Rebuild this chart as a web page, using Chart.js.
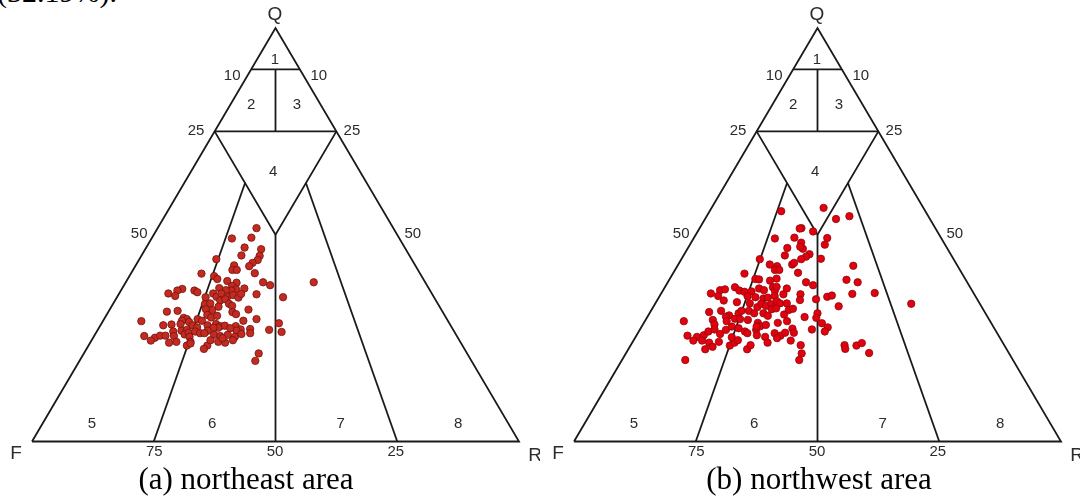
<!DOCTYPE html>
<html>
<head>
<meta charset="utf-8">
<script src="https://cdn.jsdelivr.net/npm/chart.js@4.4.0/dist/chart.umd.min.js"></script>
<style>
  body { margin: 0; background: #fff; width: 1080px; height: 497px; overflow: hidden; position: relative; }
  .panel { position: absolute; top: 0; }
  .txt { position: absolute; font-family: "Liberation Serif", "Times New Roman", serif; color: #000; white-space: nowrap; line-height: 1; }
</style>
</head>
<body>
<div class="txt" style="left:-3px; top:-23px; font-size:30px;">(32.19%).</div>
<canvas id="ne" class="panel" style="left:0px" width="540" height="497"></canvas>
<canvas id="nw" class="panel" style="left:540px" width="540" height="497"></canvas>
<div class="txt" style="left:-4px; width:500px; text-align:center; top:463px; font-size:31px;">(a) northeast area</div>
<div class="txt" style="left:569px; width:500px; text-align:center; top:463px; font-size:31px;">(b) northwest area</div>
<script>
// Q and R percentages of each sample (F = 100 - Q - R)
const qNE = [51.6,49.1,49.3,46.9,46.5,45.0,44.1,44.9,43.9,43.2,
  42.4,42.6,41.5,41.5,40.7,40.6,40.0,39.3,38.8,38.4,
  37.6,38.5,37.8,38.5,37.0,36.8,36.5,36.6,37.1,36.9,
  36.5,35.8,35.2,36.5,36.1,35.8,35.0,35.8,35.0,35.4,
  34.8,35.7,35.6,34.9,34.9,34.1,34.4,33.3,32.8,33.2,
  33.4,32.6,31.8,32.0,31.4,31.6,31.9,31.3,30.8,30.6,
  30.0,30.4,29.9,29.6,29.2,29.1,29.6,29.2,29.2,29.6,
  28.6,28.1,28.3,28.4,28.9,28.1,27.6,28.1,28.4,27.9,
  28.0,27.5,27.5,26.8,27.9,27.1,27.2,26.2,26.8,27.4,
  26.6,26.8,27.0,25.9,26.3,25.3,24.1,26.6,26.2,26.2,
  25.8,25.5,25.8,25.3,26.0,25.5,25.1,25.6,25.6,24.4,
  23.9,25.5,24.1,23.2,23.7,23.2,22.4,24.1,23.9,24.5,
  27.0,26.5,21.3,19.5,24.5,25.0];
const rNE = [20.3,16.5,20.4,20.2,23.8,20.5,15.8,24.3,24.4,23.7,
  23.4,20.2,20.4,21.3,25.4,14.5,17.4,18.4,20.7,22.8,
  22.3,28.2,30.0,38.6,25.1,23.5,22.7,21.5,19.9,12.4,
  11.6,10.1,11.8,15.1,15.9,19.3,20.4,21.0,22.6,23.6,
  25.0,25.1,28.3,34.1,18.2,21.6,22.5,23.8,24.7,18.9,
  19.9,22.0,21.1,19.7,12.0,14.1,28.5,25.5,26.5,20.7,
  21.8,22.8,16.2,17.0,16.2,7.9,19.2,20.3,28.8,31.3,
  36.4,12.9,14.5,16.3,17.8,18.9,20.1,22.0,23.6,24.7,
  25.6,24.5,23.5,22.7,27.9,29.3,31.2,31.7,28.6,27.0,
  15.7,17.3,18.3,18.4,19.0,19.7,20.5,20.2,21.4,22.3,
  24.5,25.9,27.3,29.0,30.0,10.3,12.7,13.5,14.6,12.2,
  16.2,16.4,17.6,20.2,20.7,24.4,24.1,26.2,27.7,29.0,
  35.2,38.0,35.9,36.1,24.4,26.6];

const qNW = [55.7,56.5,53.8,54.5,51.6,51.5,50.8,49.1,49.3,49.2,
  48.1,47.6,46.8,46.6,47.1,45.3,44.7,44.1,45.0,44.1,
  44.2,42.8,42.4,42.8,43.2,41.5,41.5,40.8,42.5,40.6,
  39.3,39.2,38.9,39.4,38.5,37.8,39.1,38.5,35.8,36.6,
  36.8,37.3,36.5,36.2,36.3,37.0,36.6,37.3,36.5,37.4,
  37.0,35.2,34.1,33.7,35.1,34.9,34.6,34.8,35.2,35.6,
  35.6,34.2,34.4,35.0,35.3,35.7,35.9,33.3,33.4,32.5,
  33.3,32.8,33.2,33.9,33.4,33.4,32.0,32.2,31.8,32.1,
  32.7,31.3,31.6,30.5,31.0,31.6,31.6,31.0,31.0,30.4,
  30.7,30.1,31.0,29.9,29.1,29.4,28.3,30.2,29.1,29.7,
  29.6,29.4,28.7,27.9,28.2,28.7,29.1,28.6,27.6,26.6,
  27.1,25.6,25.3,25.7,26.6,27.1,26.0,27.0,27.8,27.4,
  26.6,26.2,27.0,25.7,25.3,26.2,25.6,26.3,27.3,26.3,
  24.4,24.4,23.9,22.9,22.3,24.1,23.2,23.9,22.3,23.3,
  23.9,25.0,24.4,23.3,21.3,19.7,19.7,23.3,22.4,23.2,
  23.8,21.4,25.2,24.5,27.8];
const rNW = [14.7,23.0,26.9,29.3,20.9,20.6,23.7,16.7,20.6,27.4,
  22.6,27.7,20.4,23.7,22.9,25.7,25.3,24.6,20.8,16.1,
  28.6,18.8,20.5,23.4,23.6,20.5,21.4,25.6,36.1,14.7,
  17.6,18.4,20.8,21.9,28.4,30.2,36.4,39.0,10.2,11.7,
  12.6,14.4,15.7,16.9,18.3,19.5,20.7,22.2,23.0,22.9,
  25.2,12.0,13.7,16.6,18.1,19.8,21.6,22.4,23.6,25.2,
  28.7,29.3,32.5,34.5,35.3,39.3,43.8,52.6,19.4,21.4,
  21.8,23.0,23.9,24.7,25.6,27.0,24.6,25.4,28.2,28.9,
  38.0,12.1,14.4,16.6,18.3,18.6,20.1,21.5,23.4,24.6,
  27.8,32.3,34.5,34.8,8.0,13.8,14.7,16.1,16.8,18.2,
  19.3,21.0,23.4,24.3,25.3,27.5,29.2,36.6,38.3,38.2,
  35.3,10.5,12.6,13.8,14.3,15.3,17.0,17.7,18.5,20.1,
  21.8,22.5,23.9,24.7,26.6,28.1,29.6,30.2,31.2,32.0,
  12.3,14.1,15.8,17.0,15.8,17.7,20.4,21.0,24.4,24.6,
  27.8,29.2,32.3,34.9,36.1,36.4,13.0,43.9,44.5,46.4,
  47.2,49.9,19.8,21.4,23.6];

// field boundaries as [Q, R] corners
const fields = [
  [[0,0],[0,100],[100,0],[0,0]],
  [[90,0],[90,10]],
  [[75,0],[75,25]],
  [[90,5],[75,12.5]],
  [[75,0],[50,25],[75,25]],
  [[50,25],[0,50]],
  [[0,25],[62.5,12.5]],
  [[0,75],[62.5,25]]
];

// labels: text, x, Q, size
const labels = [
  ['1',49.9,92.3,15],['2',45.0,81.3,15],['3',54.4,81.3,15],['4',49.5,65.2,15],
  ['5',12.3,4.2,15],['6',37.0,4.2,15],['7',63.4,4.2,15],['8',87.5,4.2,15],
  ['10',41.1,88.4,15],['10',58.9,88.4,15],['25',33.7,75.1,15],['25',65.7,75.1,15],
  ['50',22.0,50.2,15],['50',78.2,50.2,15],
  ['75',25.1,-2.6,15],['50',49.9,-2.6,15],['25',74.7,-2.6,15],
  ['Q',49.9,103.2,19],['F',-3.3,-2.9,19],['R',103.3,-3.5,19]
];

function tern(q, r) { return { x: r + q / 2, y: q }; }

const labelPlugin = {
  id: 'labels',
  afterDraw(chart) {
    const ctx = chart.ctx, sx = chart.scales.x, sy = chart.scales.y;
    ctx.save();
    ctx.fillStyle = '#2b2b2b';
    ctx.textAlign = 'center';
    ctx.textBaseline = 'middle';
    labels.forEach(l => {
      ctx.font = l[3] + 'px "Liberation Sans", Arial, sans-serif';
      ctx.fillText(l[0], sx.getPixelForValue(l[1]), sy.getPixelForValue(l[2]));
    });
    ctx.restore();
  }
};

function makeChart(id, qs, rs, fill, edge, pad) {
  const sets = fields.map(f => ({
    type: 'scatter',
    data: f.map(p => tern(p[0], p[1])),
    showLine: true,
    borderColor: '#1a1a1a',
    borderWidth: 1.8,
    pointRadius: 0,
    tension: 0,
    clip: false,
    order: 2
  }));
  sets.push({
    data: qs.map((q, i) => tern(q, rs[i])),
    backgroundColor: fill,
    borderColor: edge,
    borderWidth: 0.8,
    pointRadius: 3.7,
    clip: false,
    order: 1
  });
  return new Chart(document.getElementById(id).getContext('2d'), {
    type: 'scatter',
    data: { datasets: sets },
    options: {
      responsive: false,
      animation: false,
      layout: { padding: pad },
      plugins: { legend: { display: false }, tooltip: { enabled: false } },
      scales: {
        x: { type: 'linear', min: 0, max: 100, display: false },
        y: { type: 'linear', min: 0, max: 100, display: false }
      }
    },
    plugins: [labelPlugin]
  });
}

makeChart('ne', qNE, rNE, '#c52a20', '#6e1510', { left: 32, right: 21, top: 28, bottom: 55.5 });
makeChart('nw', qNW, rNW, '#e3000f', '#8c0b0b', { left: 34, right: 19, top: 28, bottom: 55.5 });
</script>
</body>
</html>
